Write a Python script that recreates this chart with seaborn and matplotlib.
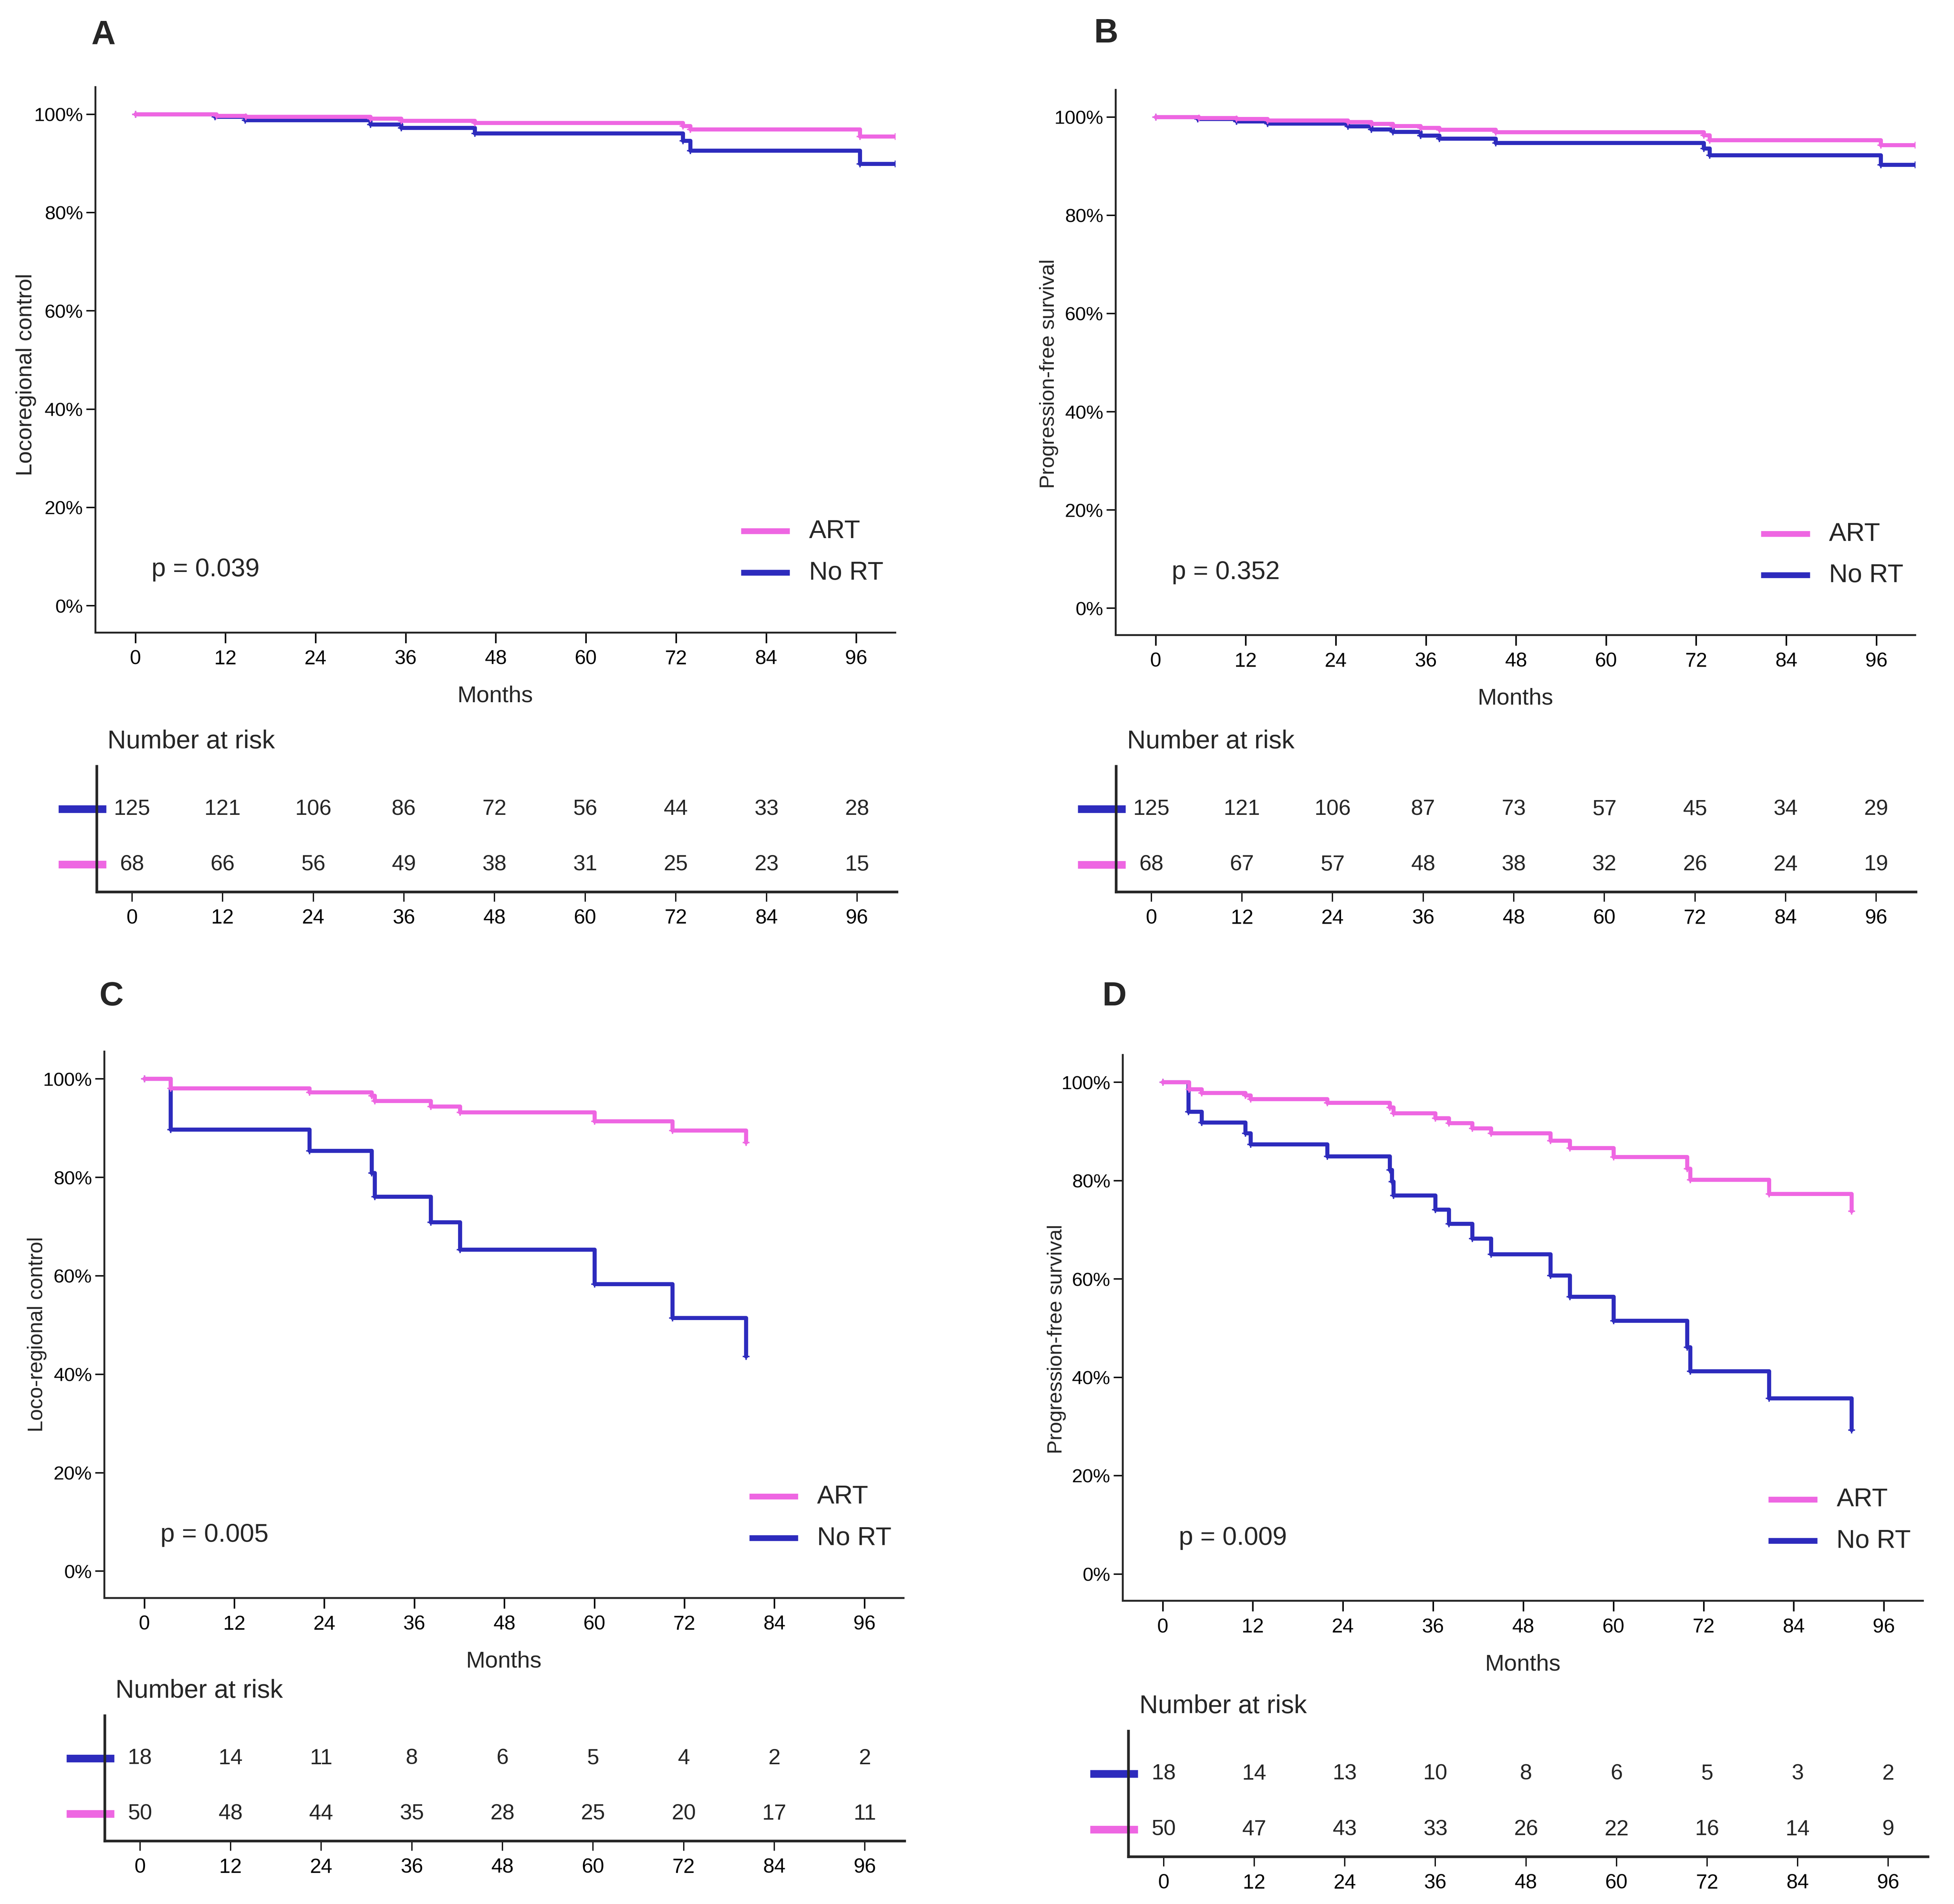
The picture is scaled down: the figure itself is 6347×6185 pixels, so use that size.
import matplotlib
matplotlib.use('Agg')
import matplotlib.pyplot as plt
import matplotlib.transforms as mtransforms
import pandas as pd
import seaborn as sns

sns.set_style('ticks')
plt.rcParams['font.family'] = ['Liberation Sans', 'DejaVu Sans']

W, H = 6956, 6779
DPI = 400
SAVE_DPI = 365  # keeps the png under the 40 Mpx reader limit
ART_COLOR = '#ee66e2'
NORT_COLOR = '#2d2bbd'

month_ticks = [0, 12, 24, 36, 48, 60, 72, 84, 96]
pct_ticks = [0, 20, 40, 60, 80, 100]

# --- panel A: locoregional control ---
a_art_t = [0, 10.8, 14.7, 31.3, 35.4, 45.2, 72.9, 73.9, 96.5, 101.2]
a_art_s = [100, 99.65, 99.5, 99.1, 98.7, 98.25, 97.6, 96.9, 95.5, 95.5]
a_nort_t = [0, 10.6, 14.6, 31.3, 35.4, 45.2, 72.9, 73.9, 96.5, 101.2]
a_nort_s = [100, 99.5, 98.8, 97.9, 97.2, 96.1, 94.6, 92.6, 89.9, 89.9]
a_risk_nort = [125, 121, 106, 86, 72, 56, 44, 33, 28]
a_risk_art = [68, 66, 56, 49, 38, 31, 25, 23, 15]

# --- panel B: progression-free survival ---
b_art_t = [0, 5.75, 10.75, 14.9, 25.6, 28.7, 31.6, 35.3, 37.8, 45.3, 73.0, 73.8, 96.6, 101.2]
b_art_s = [100, 99.8, 99.6, 99.3, 99.0, 98.6, 98.2, 97.8, 97.4, 96.9, 96.3, 95.3, 94.3, 94.3]
b_nort_t = [0, 5.6, 10.75, 14.9, 25.6, 28.7, 31.6, 35.3, 37.8, 45.3, 73.0, 73.8, 96.6, 101.2]
b_nort_s = [100, 99.6, 99.1, 98.7, 98.1, 97.5, 97.0, 96.2, 95.6, 94.7, 93.6, 92.2, 90.3, 90.3]
b_risk_nort = [125, 121, 106, 87, 73, 57, 45, 34, 29]
b_risk_art = [68, 67, 57, 48, 38, 32, 26, 24, 19]

# --- panel C: loco-regional control ---
c_art_t = [0, 3.5, 22.0, 30.3, 30.7, 38.2, 42.1, 60.0, 70.4, 80.2]
c_art_s = [100, 98.1, 97.3, 96.6, 95.5, 94.4, 93.2, 91.4, 89.5, 87.1]
c_nort_t = [0, 3.5, 22.0, 30.3, 30.7, 38.2, 42.1, 60.0, 70.4, 80.2]
c_nort_s = [100, 89.7, 85.4, 80.9, 76.1, 70.9, 65.3, 58.3, 51.4, 43.6]
c_risk_nort = [18, 14, 11, 8, 6, 5, 4, 2, 2]
c_risk_art = [50, 48, 44, 35, 28, 25, 20, 17, 11]

# --- panel D: progression-free survival ---
d_art_t = [0, 3.5, 5.2, 11.0, 11.7, 21.9, 30.2, 30.7, 36.3, 38.1, 41.2, 43.7,
           51.6, 54.2, 60.0, 69.8, 70.2, 80.7, 91.7]
d_art_s = [100, 98.6, 97.8, 97.3, 96.6, 95.8, 94.9, 93.7, 92.7, 91.7, 90.6, 89.6,
           88.1, 86.6, 84.8, 82.4, 80.2, 77.3, 73.8]
d_nort_t = [0, 3.4, 5.2, 11.0, 11.7, 21.9, 30.2, 30.5, 30.7, 36.3, 38.1, 41.2, 43.7,
            51.6, 54.2, 60.0, 69.8, 70.2, 80.7, 91.7]
d_nort_s = [100, 94.0, 91.8, 89.6, 87.4, 84.9, 82.2, 79.8, 77.0, 74.1, 71.2, 68.2, 65.0,
            60.7, 56.4, 51.5, 46.1, 41.2, 35.7, 29.3]
d_risk_nort = [18, 14, 13, 10, 8, 6, 5, 3, 2]
d_risk_art = [50, 47, 43, 33, 26, 22, 16, 14, 9]


def px_rect(l, t, r, b):
    return [l / W, 1 - b / H, (r - l) / W, (b - t) / H]


def fig_text(fig, x, y, s, **kw):
    fig.text(x / W, 1 - y / H, s, **kw)


def draw_panel(fig, p):
    ax = fig.add_axes(px_rect(*p['main']))
    # No RT first so the ART curve sits on top where they overlap
    for t, s, color in [(p['nort_t'], p['nort_s'], NORT_COLOR), (p['art_t'], p['art_s'], ART_COLOR)]:
        df = pd.DataFrame({'Months': t, 'Survival': s})
        sns.lineplot(data=df, x='Months', y='Survival', ax=ax, color=color, estimator=None,
                     sort=False, drawstyle='steps-post', lw=2.6, marker='+', markersize=4.5,
                     markeredgewidth=0.9, markeredgecolor=color, legend=False)
    ax.set_xlim(-5.3, 101.2)
    ax.set_ylim(-5.5, 105.5)
    ax.set_xticks(month_ticks)
    ax.set_yticks(pct_ticks)
    ax.set_yticklabels([f'{v}%' for v in pct_ticks])
    ax.set_xlabel('')
    ax.set_ylabel('')
    sns.despine(ax=ax)
    for side in ['left', 'bottom']:
        ax.spines[side].set_linewidth(1.2)
    ax.tick_params(axis='x', length=6.8, width=1.0, pad=4, labelsize=12.8, colors='black')
    ax.tick_params(axis='y', length=6.0, width=0.9, pad=2, labelsize=12.3, colors='black')
    ax.text(p['ylab_pos'][0], p['ylab_pos'][1], p['ylabel'], transform=ax.transAxes,
            rotation=90, ha='center', va='center', fontsize=p['ylab_size'])
    ax.text(0.07, 0.116, p['pval'], transform=ax.transAxes, ha='left', va='center', fontsize=16.5)
    # legend keys
    for label, color, yy in [('ART', ART_COLOR, 0.186), ('No RT', NORT_COLOR, 0.110)]:
        ax.plot([0.807, 0.868], [yy, yy], transform=ax.transAxes, color=color, lw=3.7,
                solid_capstyle='butt')
        ax.text(0.892, yy, label, transform=ax.transAxes, ha='left', va='center', fontsize=16.6)

    ml, mt, mr, mb = p['main']
    fig_text(fig, (ml + mr) / 2, mb + 225, 'Months', ha='center', va='center', fontsize=14.8)
    fig_text(fig, p['letter_xy'][0], p['letter_xy'][1], p['letter'], ha='center', va='center',
             fontsize=21.5, fontweight='bold')

    # number at risk table
    tl, tt, tr, tb = p['table']
    fig_text(fig, tl + 39, tt - 89, 'Number at risk', ha='left', va='center', fontsize=16.5)
    tx = fig.add_axes(px_rect(*p['table']))
    tx.set_xlim(-4.68, 101.25)
    tx.set_ylim(-0.49, 1.77)
    for m, n_nort, n_art in zip(month_ticks, p['risk_nort'], p['risk_art']):
        tx.text(m, 1, str(n_nort), ha='center', va='center', fontsize=14)
        tx.text(m, 0, str(n_art), ha='center', va='center', fontsize=14)
    blend = mtransforms.blended_transform_factory(tx.transAxes, tx.transData)
    for row, color in [(1, NORT_COLOR), (0, ART_COLOR)]:
        tx.plot([-0.0478, 0.0119], [row, row], transform=blend, color=color, lw=4.9,
                solid_capstyle='butt', clip_on=False, zorder=1)
    sns.despine(ax=tx)
    for side in ['left', 'bottom']:
        tx.spines[side].set_linewidth(1.7)
    tx.set_yticks([])
    tx.set_xticks(month_ticks)
    tx.tick_params(axis='x', length=6.3, width=0.8, pad=4.5, labelsize=13, colors='black')


panels = [
    dict(main=(340, 311, 3187, 2253), table=(344, 2729, 3192, 3175.5),
         art_t=a_art_t, art_s=a_art_s, nort_t=a_nort_t, nort_s=a_nort_s,
         risk_nort=a_risk_nort, risk_art=a_risk_art,
         ylabel='Locoregional control', ylab_size=14.4, ylab_pos=(-0.087, 0.473),
         pval='p = 0.039', letter='A', letter_xy=(368, 126)),
    dict(main=(3972, 321, 6818, 2262), table=(3972.7, 2729, 6819.7, 3176),
         art_t=b_art_t, art_s=b_art_s, nort_t=b_nort_t, nort_s=b_nort_s,
         risk_nort=b_risk_nort, risk_art=b_risk_art,
         ylabel='Progression-free survival', ylab_size=13.3, ylab_pos=(-0.0836, 0.48),
         pval='p = 0.352', letter='B', letter_xy=(3938, 121)),
    dict(main=(372, 3745, 3216, 5690), table=(372.4, 6108.6, 3220, 6554.3),
         art_t=c_art_t, art_s=c_art_s, nort_t=c_nort_t, nort_s=c_nort_s,
         risk_nort=c_risk_nort, risk_art=c_risk_art,
         ylabel='Loco-regional control', ylab_size=13.4, ylab_pos=(-0.0847, 0.483),
         pval='p = 0.005', letter='C', letter_xy=(396.5, 3549)),
    dict(main=(3997, 3757, 6845, 5700), table=(4016.6, 6163, 6862.5, 6610.5),
         art_t=d_art_t, art_s=d_art_s, nort_t=d_nort_t, nort_s=d_nort_s,
         risk_nort=d_risk_nort, risk_art=d_risk_art,
         ylabel='Progression-free survival', ylab_size=13.3, ylab_pos=(-0.083, 0.48),
         pval='p = 0.009', letter='D', letter_xy=(3967, 3549)),
]

fig = plt.figure(figsize=(W / DPI, H / DPI), dpi=DPI)
for p in panels:
    draw_panel(fig, p)

fig.savefig('out.png', dpi=SAVE_DPI, facecolor='white')
